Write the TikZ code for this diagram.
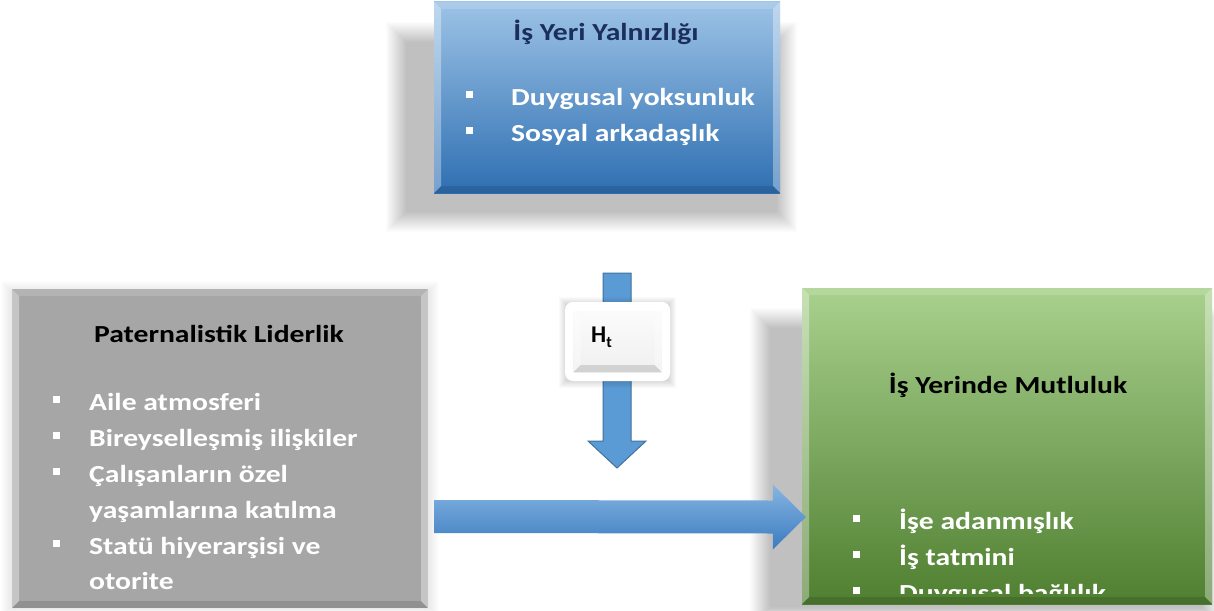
\documentclass[tikz,border=0pt]{standalone}
\usepackage{fontspec}
\setmainfont{Carlito}
\usetikzlibrary{calc}
\definecolor{bluetop}{HTML}{9DC3E6}
\definecolor{bluebot}{HTML}{2E6FB2}
\definecolor{navy}{HTML}{1C2F5C}
\definecolor{greentop}{HTML}{A9D18E}
\definecolor{greenbot}{HTML}{4F7F30}
\definecolor{boxgray}{HTML}{A6A6A6}
\definecolor{arrtop}{HTML}{86B5E2}
\definecolor{arrbot}{HTML}{3B7BC0}
\definecolor{arrfill}{HTML}{5B9BD5}
\definecolor{arrline}{HTML}{41719C}
\newcommand\mysoftshadow[6]{%
  \foreach \i in {0,...,#5}{\fill[black,opacity=#6] ({#1+\i},{#2-\i}) rectangle ({#3-\i},{#4+\i});}}
\newcommand\bul[1]{\makebox[#1][l]{\rule[7pt]{7pt}{7pt}}}
\newcommand\wide[1]{\scalebox{1.21}[1]{#1}}
\begin{document}
\begin{tikzpicture}[x=1pt,y=1pt,
  font=\bfseries,
  bevel/.style={path picture={
    \fill[white,opacity=.35] (path picture bounding box.north west) -- ([shift={(7,-7)}]path picture bounding box.north west) -- ([shift={(7,7)}]path picture bounding box.south west) -- (path picture bounding box.south west) -- cycle;
    \fill[white,opacity=.35] (path picture bounding box.north east) -- ([shift={(-7,-7)}]path picture bounding box.north east) -- ([shift={(-7,7)}]path picture bounding box.south east) -- (path picture bounding box.south east) -- cycle;
    \fill[white,opacity=.15] (path picture bounding box.north west) -- ([shift={(7,-7)}]path picture bounding box.north west) -- ([shift={(-7,-7)}]path picture bounding box.north east) -- (path picture bounding box.north east) -- cycle;
    \fill[black,opacity=.12] (path picture bounding box.south west) -- ([shift={(7,7)}]path picture bounding box.south west) -- ([shift={(-7,7)}]path picture bounding box.south east) -- (path picture bounding box.south east) -- cycle;
  }},
  box/.style={rectangle, inner sep=0pt, draw=none, bevel},
  title/.style={anchor=base, inner sep=0pt, font=\bfseries\fontsize{24.5}{29}\selectfont},
  item/.style={anchor=base west, text=white, inner sep=0pt, font=\bfseries\fontsize{24.5}{29}\selectfont},
]
\useasboundingbox (0,0) rectangle (1214,-610);
\fill[white] (0,0) rectangle (1214,-610);

% soft shadows
\mysoftshadow{386}{-22}{797}{-232}{20}{0.011}
\mysoftshadow{1}{-281}{439}{-617}{9}{0.008}
\mysoftshadow{750}{-308}{1222}{-627}{20}{0.011}

% boxes
\node[box, minimum width=346, minimum height=191, top color=bluetop, bottom color=bluebot] (blue) at (607,-97.5) {};
\node[box, minimum width=416, minimum height=319, fill=boxgray] (gray) at (220,-448.5) {};
\node[box, minimum width=410, minimum height=316, top color=greentop, bottom color=greenbot] (green) at (1007,-446) {};

% blue texts
\node[title, text=navy] (bt) at (606,-41) {\wide{İş Yeri Yalnızlığı}};
\node[item] (b1) at (466,-105) {\bul{45pt}\wide{Duygusal yoksunluk}};
\node[item] (b2) at (466,-141) {\bul{45pt}\wide{Sosyal arkadaşlık}};

% gray texts
\node[title, text=black] (gt) at (219,-342) {\wide{Paternalistik Liderlik}};
\node[item] (g1) at (53,-410) {\bul{36pt}\wide{Aile atmosferi}};
\node[item] (g2) at (53,-446) {\bul{36pt}\wide{Bireyselleşmiş ilişkiler}};
\node[item] (g3) at (53,-482) {\bul{36pt}\wide{Çalışanların özel}};
\node[item] (g4) at (89,-518) {\wide{yaşamlarına katılma}};
\node[item] (g5) at (53,-554) {\bul{36pt}\wide{Statü hiyerarşisi ve}};
\node[item] (g6) at (89,-589) {\wide{otorite}};

% green texts
\node[title, text=black] (rt) at (1008,-393) {\wide{İş Yerinde Mutluluk}};
\node[item] (r1) at (853,-529) {\bul{46pt}\wide{İşe adanmışlık}};
\node[item] (r2) at (853,-565) {\bul{46pt}\wide{İş tatmini}};
\begin{scope}
  \clip (green.north west) rectangle ([yshift=11pt]green.south east);
  \node[item] (r3) at (853,-601) {\bul{46pt}\wide{Duygusal bağlılık}};
\end{scope}

% horizontal arrow: gray -> green
\coordinate (hs) at ($(gray.east |- 0,-516.5)+(6,0)$);
\coordinate (he) at ($(green.west |- 0,-517)+(4,0)$);
\shade[top color=arrtop, bottom color=arrbot]
  ($(hs)+(0,16.5)$) -- ($(he)+(-33,16.5)$) -- ($(he)+(-33,32.5)$) -- (he)
  -- ($(he)+(-33,-32.5)$) -- ($(he)+(-33,-16.5)$) -- ($(hs)+(0,-16.5)$) -- cycle;

% vertical arrow: from below the blue box to the main path
\coordinate (vs) at ($(blue.south)+(10,-80)$);
\coordinate (vt) at (617,-468);
\filldraw[fill=arrfill, draw=arrline, line width=1pt]
  ($(vs)+(-14,0)$) -- ($(vs)+(14,0)$) -- ($(vt)+(14,27)$) -- ($(vt)+(29,27)$) -- (vt)
  -- ($(vt)+(-29,27)$) -- ($(vt)+(-14,27)$) -- cycle;

% H_t label box
\mysoftshadow{559}{-297}{676}{-388}{7}{0.02}
\node[rectangle, rounded corners=8pt, fill=white, minimum width=105, minimum height=79, inner sep=0pt] (ht) at (617.5,-341.5) {};
\node[rectangle, inner sep=0pt, minimum width=88, minimum height=61, top color=gray!3, bottom color=gray!12, bevel] (htin) at (ht.center) {};
\node[anchor=base west, inner sep=0pt, font=\bfseries\fontsize{24}{28}\selectfont] (htl) at (591,-342) {H\raisebox{-5pt}{\fontsize{16}{16}\selectfont t}};
\end{tikzpicture}
\end{document}
